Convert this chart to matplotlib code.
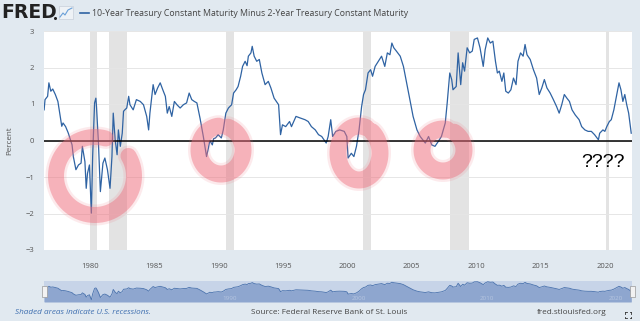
import numpy as np
import matplotlib.pyplot as plt
from matplotlib.patches import Rectangle

# 10-Year Treasury minus 2-Year Treasury spread (percent)
years = [1976.43, 1976.5, 1976.7, 1976.8, 1976.95, 1977.1, 1977.3, 1977.5, 1977.7, 1977.8,
         1977.9, 1978.1, 1978.3, 1978.6, 1978.7, 1978.9, 1979.1, 1979.3, 1979.4, 1979.6,
         1979.7, 1979.8, 1979.95, 1980.1, 1980.2, 1980.35, 1980.45, 1980.5, 1980.65, 1980.8,
         1981.0, 1981.15, 1981.35, 1981.55, 1981.7, 1981.8, 1981.95, 1982.1, 1982.2, 1982.35,
         1982.5, 1982.6, 1982.7, 1982.85, 1983.0, 1983.1, 1983.35, 1983.6, 1983.9, 1984.15,
         1984.4, 1984.55, 1984.65, 1984.9, 1985.05, 1985.25, 1985.45, 1985.65, 1985.85, 1986.0,
         1986.15, 1986.35, 1986.55, 1986.75, 1987.0, 1987.25, 1987.5, 1987.7, 1987.9, 1988.1,
         1988.3, 1988.55, 1988.8, 1989.05, 1989.2, 1989.3, 1989.5, 1989.6, 1989.75, 1989.95,
         1990.2, 1990.35, 1990.55, 1990.75, 1991.0, 1991.15, 1991.35, 1991.5, 1991.7, 1991.85,
         1992.05, 1992.2, 1992.3, 1992.5, 1992.6, 1992.75, 1992.95, 1993.15, 1993.35, 1993.6,
         1993.85, 1994.05, 1994.3, 1994.65, 1994.8, 1994.95, 1995.2, 1995.5, 1995.65, 1996.0,
         1996.3, 1996.7, 1996.95, 1997.2, 1997.5, 1997.75, 1998.0, 1998.35, 1998.5, 1998.7,
         1998.85, 1999.1, 1999.4, 1999.75, 1999.95, 2000.05, 2000.3, 2000.5, 2000.7, 2000.9,
         2001.1, 2001.25, 2001.4, 2001.6, 2001.8, 2001.95, 2002.15, 2002.4, 2002.65, 2002.9,
         2003.1, 2003.3, 2003.45, 2003.6, 2003.8, 2004.1, 2004.35, 2004.6, 2004.85, 2005.1,
         2005.4, 2005.65, 2006.05, 2006.3, 2006.55, 2006.8, 2007.05, 2007.3, 2007.6, 2007.75,
         2007.95, 2008.1, 2008.2, 2008.45, 2008.6, 2008.8, 2008.95, 2009.1, 2009.3, 2009.5,
         2009.7, 2009.85, 2010.1, 2010.3, 2010.55, 2010.7, 2010.9, 2011.1, 2011.3, 2011.5,
         2011.65, 2011.8, 2012.0, 2012.15, 2012.3, 2012.5, 2012.7, 2012.9, 2013.1, 2013.25,
         2013.45, 2013.65, 2013.8, 2013.95, 2014.2, 2014.45, 2014.7, 2014.9, 2015.1, 2015.3,
         2015.5, 2015.75, 2016.0, 2016.25, 2016.45, 2016.65, 2016.85, 2017.05, 2017.25, 2017.45,
         2017.7, 2018.0, 2018.2, 2018.45, 2018.7, 2018.95, 2019.2, 2019.5, 2019.6, 2019.85,
         2020.0, 2020.15, 2020.35, 2020.5, 2020.7, 2020.9, 2021.1, 2021.25, 2021.4, 2021.55,
         2021.7, 2021.85, 2022.05]
spread = [0.84, 1.12, 1.21, 1.58, 1.35, 1.41, 1.26, 1.07, 0.62, 0.39,
          0.48, 0.38, 0.21, -0.12, -0.44, -0.80, -0.67, -0.62, -0.16, -0.58,
          -1.31, -0.90, -0.67, -1.99, -0.44, 1.03, 1.16, 0.93, -0.07, -1.40,
          -0.62, -0.48, -0.80, -1.31, -0.44, 0.75, 0.02, -0.39, 0.29, -0.16,
          0.20, 0.80, 0.84, 0.89, 1.21, 0.98, 0.84, 1.12, 1.07, 0.98,
          0.66, 0.29, 0.75, 1.53, 1.26, 1.44, 1.58, 1.39, 1.21, 0.75,
          0.93, 0.66, 1.07, 0.98, 0.89, 0.98, 1.03, 1.30, 1.12, 1.07,
          1.03, 0.60, 0.11, -0.44, -0.20, 0.00, -0.12, 0.05, 0.07, 0.16,
          0.07, 0.29, 0.75, 0.89, 0.98, 1.30, 1.39, 1.48, 1.76, 2.03,
          2.17, 2.05, 2.31, 2.40, 2.58, 2.31, 2.17, 2.22, 1.85, 1.53,
          1.62, 1.44, 1.16, 0.98, 0.16, 0.43, 0.38, 0.52, 0.38, 0.66,
          0.62, 0.57, 0.52, 0.38, 0.29, 0.16, 0.11, -0.07, 0.11, 0.57,
          0.11, 0.25, 0.29, 0.25, 0.11, -0.48, -0.35, -0.44, -0.16, 0.29,
          0.93, 1.26, 1.39, 1.85, 1.94, 1.76, 2.03, 2.17, 2.31, 2.03,
          2.40, 2.35, 2.67, 2.54, 2.45, 2.31, 2.03, 1.58, 1.12, 0.66,
          0.29, 0.11, -0.07, 0.11, -0.12, -0.16, -0.03, 0.11, 0.48, 1.03,
          1.85, 1.67, 1.39, 1.48, 2.40, 1.53, 2.13, 1.90, 2.54, 2.40,
          2.45, 2.77, 2.81, 2.54, 2.03, 2.49, 2.81, 2.67, 2.72, 2.17,
          1.85, 1.90, 1.62, 1.85, 1.35, 1.30, 1.39, 1.71, 1.53, 2.17,
          2.40, 2.31, 2.63, 2.35, 2.22, 1.94, 1.71, 1.26, 1.44, 1.67,
          1.44, 1.30, 1.12, 0.93, 0.75, 0.98, 1.26, 1.16, 1.07, 0.84,
          0.70, 0.57, 0.38, 0.29, 0.25, 0.25, 0.16, 0.02, 0.20, 0.29,
          0.25, 0.38, 0.52, 0.57, 0.84, 1.21, 1.58, 1.39, 1.07, 1.26,
          0.98, 0.75, 0.20]

# NBER recessions (start, end)
recessions = [(1980.0, 1980.5), (1981.5, 1982.85), (1990.55, 1991.2),
              (2001.2, 2001.85), (2007.95, 2009.45), (2020.1, 2020.3)]

x_ticks = [1980, 1985, 1990, 1995, 2000, 2005, 2010, 2015, 2020]
y_ticks = [-3, -2, -1, 0, 1, 2, 3]

W, H = 640, 321
BG = "#e1e9f0"
LINE = "#2f63a3"
TICK = "#555555"

fig = plt.figure(figsize=(W / 100, H / 100), dpi=100, facecolor=BG)


def px_axes(x0, y0, x1, y1, **kw):
    return fig.add_axes([x0 / W, 1 - y1 / H, (x1 - x0) / W, (y1 - y0) / H], **kw)


# main chart
ax = px_axes(44, 31, 632, 250, facecolor="white")
for a, b in recessions:
    ax.axvspan(a, b, color="#e3e3e3", lw=0, zorder=0)
ax.plot(years, spread, color=LINE, lw=0.9, zorder=3)
ax.axhline(0, color="black", lw=1.1, zorder=4)
ax.set_xlim(1976.42, 2022.11)
ax.set_ylim(-3, 3)
ax.set_xticks(x_ticks)
ax.set_yticks(y_ticks)
ax.grid(axis="y", color="#e6e6e6", lw=0.7, zorder=1)
ax.set_axisbelow(True)
for s in ax.spines.values():
    s.set_visible(False)
ax.tick_params(length=0, labelsize=5.5, labelcolor=TICK, pad=7)
ax.tick_params(axis="x", pad=9)
for lab in ax.get_xticklabels() + ax.get_yticklabels():
    lab.set_family("Open Sans")
ax.set_ylabel("Percent", fontsize=5.8, color=TICK, family="Open Sans", labelpad=9)
ax.text(2019.85, -0.6, "????", ha="center", va="center", fontsize=14,
        color="black", family="Liberation Sans", zorder=6)

# navigator strip
nav = px_axes(44, 281, 632, 302, facecolor="#c7d4e8")
nav.fill_between(years, spread, -2.6, color="#8ea6cf", lw=0)
nav.plot(years, spread, color="#4a72ad", lw=0.6)
nav.set_xlim(1976.42, 2022.11)
nav.set_ylim(-2.6, 3.0)
nav.set_xticks([])
nav.set_yticks([])
for s in nav.spines.values():
    s.set_visible(False)
for yr in [1990, 2000, 2010, 2020]:
    nav.text(yr + 0.3, -1.6, str(yr), fontsize=4.5, color="white", alpha=0.35,
             family="Open Sans", va="center")

# overlay in pixel coordinates for header, footer and hand-drawn rings
ov = fig.add_axes([0, 0, 1, 1], zorder=10)
ov.set_xlim(0, W)
ov.set_ylim(H, 0)
ov.axis("off")
ov.patch.set_alpha(0)

# slider handles
for hx in (44, 632):
    ov.add_patch(Rectangle((hx - 2.5, 286), 5, 11, facecolor="#f2f2f2",
                           edgecolor="#999999", lw=0.5))

# header
ov.text(1, 13, "FRED", fontsize=13.5, fontweight="heavy", color="#222222",
        va="center", ha="left", family="DejaVu Sans")
ov.plot([55], [18], marker="o", ms=1.2, color="#222222")
ov.add_patch(Rectangle((59, 6), 14, 13, facecolor="#eef2f6", edgecolor="#c8d0da", lw=0.5))
ov.plot([60, 63, 65, 68, 72], [17, 13, 15, 10, 8], color="#6aa0d8", lw=0.8)
ov.plot([80, 89], [13, 13], color=LINE, lw=1.2)
ov.text(92, 13, "10-Year Treasury Constant Maturity Minus 2-Year Treasury Constant Maturity",
        fontsize=6.3, color="#444444", va="center", ha="left", family="Open Sans")

# footer
ov.text(15, 312, "Shaded areas indicate U.S. recessions.", fontsize=5.9,
        color="#3f6fb0", style="italic", va="center", family="Open Sans")
ov.text(329, 312, "Source: Federal Reserve Bank of St. Louis", fontsize=5.9,
        color="#444444", va="center", ha="center", family="Open Sans")
ov.text(607, 312, "fred.stlouisfed.org", fontsize=5.9, color="#444444",
        va="center", ha="right", family="Open Sans")
for dx, dy in [(-1, -1), (1, -1), (-1, 1), (1, 1)]:
    cx, cy = 628 + dx * 3, 315 + dy * 3
    ov.plot([cx, cx - dx * 1.5], [cy, cy], color="#333333", lw=0.6)
    ov.plot([cx, cx], [cy, cy - dy * 1.5], color="#333333", lw=0.6)

# hand-drawn pink rings: centre, radii, open gap (deg), stroke width (px)
rings = [
    ((95, 176), (39, 39), (31, 74), 16),
    ((221, 150), (22, 24), (72, 96), 17),
    ((359, 153), (21, 27), (52, 70), 17),
    ((443, 150), (21, 21), (58, 80), 17),
]
for (cx, cy), (rx, ry), (g0, g1), w in rings:
    t = np.radians(np.linspace(g1, g0 + 360, 200))
    rxs = cx + rx * np.cos(t)
    rys = cy - ry * np.sin(t)
    ov.plot(rxs, rys, color="#ef6f7e", alpha=0.14, lw=(w + 5) * 0.72,
            solid_capstyle="round")
    ov.plot(rxs, rys, color="#ef6f7e", alpha=0.45, lw=w * 0.72,
            solid_capstyle="round")

fig.savefig("out.png", dpi=100, facecolor=BG)
